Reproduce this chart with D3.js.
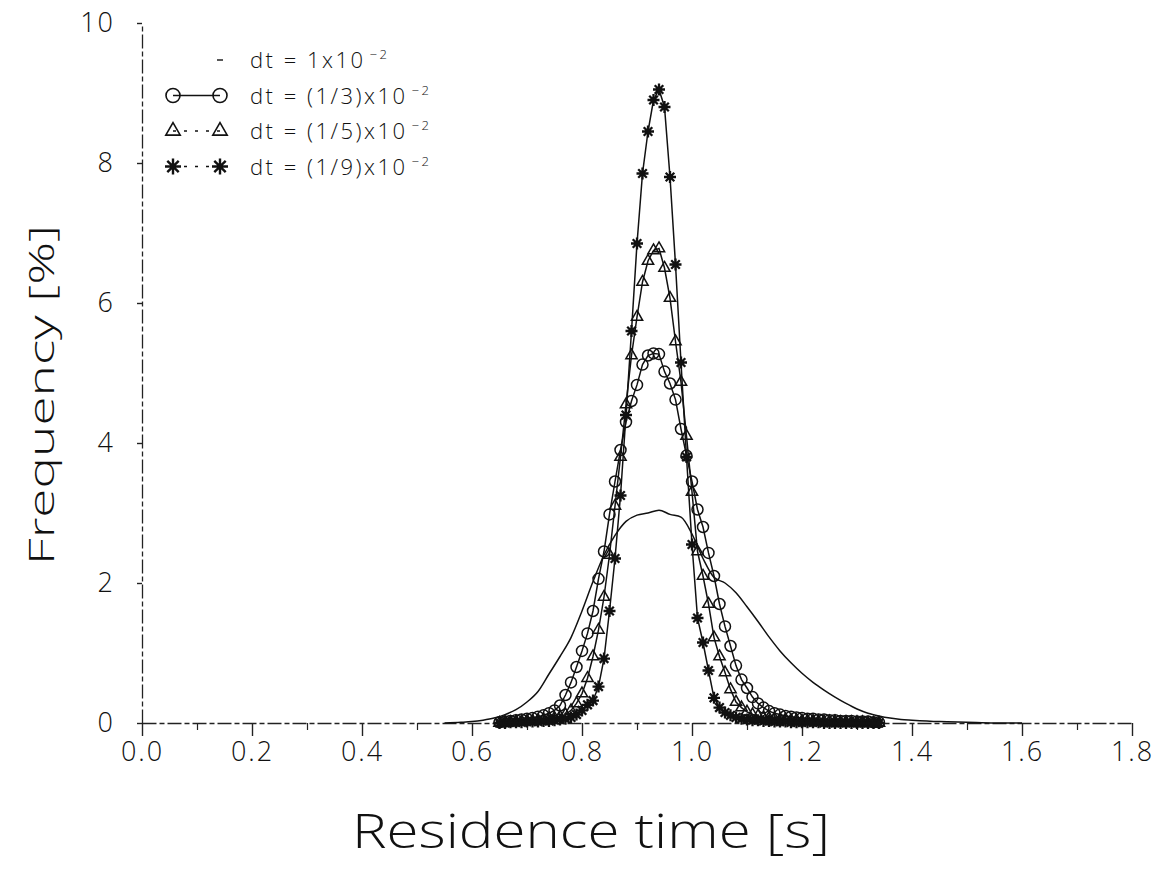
<!DOCTYPE html>
<html>
<head>
<meta charset="utf-8">
<script src="https://cdn.jsdelivr.net/npm/d3@7"></script>
<style>
  body { margin: 0; background: #fff; }
  svg { font-family: "Open Sans", "DejaVu Sans", sans-serif; font-weight: 300; }
</style>
</head>
<body>
<div class="chart"></div>
<script>
// residence time bins for the marker series [s]
const times = [
  0.65, 0.66, 0.67, 0.68, 0.69, 0.70, 0.71, 0.72, 0.73, 0.74,
  0.75, 0.76, 0.77, 0.78, 0.79, 0.80, 0.81, 0.82, 0.83, 0.84,
  0.85, 0.86, 0.87, 0.88, 0.89, 0.90, 0.91, 0.92, 0.93, 0.94,
  0.95, 0.96, 0.97, 0.98, 0.99, 1.00, 1.01, 1.02, 1.03, 1.04,
  1.05, 1.06, 1.07, 1.08, 1.09, 1.10, 1.11, 1.12, 1.13, 1.14,
  1.15, 1.16, 1.17, 1.18, 1.19, 1.20, 1.21, 1.22, 1.23, 1.24,
  1.25, 1.26, 1.27, 1.28, 1.29, 1.30, 1.31, 1.32, 1.33, 1.34
];

// dt = (1/3)x10^-2  (circles)
const freqThird = [
  0.01, 0.02, 0.03, 0.04, 0.05, 0.06, 0.07, 0.09, 0.11, 0.14,
  0.18, 0.25, 0.40, 0.58, 0.80, 1.03, 1.28, 1.60, 2.06, 2.45,
  2.98, 3.45, 3.90, 4.30, 4.60, 4.83, 5.12, 5.25, 5.28, 5.27,
  5.02, 4.85, 4.62, 4.20, 3.82, 3.45, 3.05, 2.80, 2.43, 2.10,
  1.70, 1.38, 1.10, 0.82, 0.62, 0.50, 0.37, 0.28, 0.22, 0.17,
  0.14, 0.12, 0.10, 0.09, 0.08, 0.07, 0.06, 0.06, 0.05, 0.05,
  0.04, 0.04, 0.03, 0.03, 0.03, 0.02, 0.02, 0.02, 0.01, 0.01
];

// dt = (1/5)x10^-2  (triangles)
const freqFifth = [
  0.00, 0.01, 0.01, 0.02, 0.02, 0.03, 0.03, 0.04, 0.05, 0.06,
  0.07, 0.09, 0.12, 0.18, 0.28, 0.42, 0.64, 0.95, 1.33, 1.80,
  2.40, 3.10, 3.80, 4.55, 5.25, 5.80, 6.30, 6.60, 6.75, 6.78,
  6.50, 6.07, 5.45, 4.87, 4.10, 3.30, 2.45, 2.10, 1.70, 1.22,
  0.95, 0.72, 0.48, 0.30, 0.22, 0.16, 0.12, 0.10, 0.08, 0.07,
  0.06, 0.05, 0.05, 0.04, 0.04, 0.03, 0.03, 0.03, 0.02, 0.02,
  0.02, 0.02, 0.01, 0.01, 0.01, 0.01, 0.01, 0.00, 0.00, 0.00
];

// dt = (1/9)x10^-2  (stars)
const freqNinth = [
  0.00, 0.00, 0.01, 0.01, 0.01, 0.02, 0.02, 0.02, 0.03, 0.03,
  0.04, 0.05, 0.06, 0.08, 0.12, 0.18, 0.26, 0.32, 0.52, 0.92,
  1.60, 2.35, 3.25, 4.40, 5.60, 6.85, 7.85, 8.45, 8.90, 9.05,
  8.80, 7.80, 6.55, 5.15, 3.80, 2.55, 1.50, 1.15, 0.75, 0.36,
  0.22, 0.15, 0.11, 0.08, 0.06, 0.05, 0.04, 0.04, 0.03, 0.03,
  0.02, 0.02, 0.02, 0.01, 0.01, 0.01, 0.01, 0.01, 0.01, 0.00,
  0.00, 0.00, 0.00, 0.00, 0.00, 0.00, 0.00, 0.00, 0.00, 0.00
];

// dt = 1x10^-2  (plain line)
const lineTimes = [
  0.55, 0.58, 0.60, 0.62, 0.64, 0.66, 0.68, 0.70, 0.72, 0.74,
  0.76, 0.78, 0.80, 0.82, 0.84, 0.86, 0.88, 0.90, 0.92, 0.94,
  0.96, 0.98, 1.00, 1.02, 1.04, 1.06, 1.08, 1.10, 1.12, 1.14,
  1.16, 1.18, 1.20, 1.22, 1.24, 1.26, 1.28, 1.30, 1.32, 1.34,
  1.36, 1.38, 1.40, 1.45, 1.50, 1.55, 1.60
];
const freqOne = [
  0.00, 0.01, 0.02, 0.04, 0.07, 0.12, 0.19, 0.30, 0.45, 0.70,
  0.95, 1.22, 1.60, 2.02, 2.40, 2.68, 2.88, 2.97, 3.00, 3.04,
  2.98, 2.94, 2.70, 2.35, 2.08, 2.00, 1.86, 1.66, 1.45, 1.23,
  1.03, 0.86, 0.71, 0.58, 0.47, 0.37, 0.28, 0.20, 0.14, 0.10,
  0.07, 0.05, 0.04, 0.02, 0.01, 0.00, 0.00
];

const xMajor = [0.0, 0.2, 0.4, 0.6, 0.8, 1.0, 1.2, 1.4, 1.6, 1.8];
const xMinor = [0.1, 0.3, 0.5, 0.7, 0.9, 1.1, 1.3, 1.5, 1.7];
const yTicks = [0, 2, 4, 6, 8, 10];

const legendMain = ['dt = 1x10', 'dt = (1/3)x10', 'dt = (1/5)x10', 'dt = (1/9)x10'];
const legendExp = ['\u22122', '\u22122', '\u22122', '\u22122'];

//size and scales
const W = 1170, H = 869;
const x = d3.scaleLinear().domain([0, 1.8]).range([142, 1132]);
const y = d3.scaleLinear().domain([0, 10]).range([723, 23]);

const svg = d3.select('.chart').append('svg')
  .attr('width', W)
  .attr('height', H);

//axes
const axisStyle = g => {
  g.selectAll('.tick line').attr('stroke', '#222').attr('stroke-width', 1.4);
  g.select('.domain').attr('stroke', '#222').attr('stroke-width', 1.3)
    .attr('stroke-dasharray', '14,3,5,3');
};

svg.append('g')
  .attr('transform', `translate(0,${y(0)})`)
  .call(d3.axisBottom(x).tickValues(xMajor).tickSize(13).tickSizeOuter(0)
    .tickPadding(6).tickFormat(d3.format('.1f')))
  .call(axisStyle)
  .call(g => g.selectAll('.tick text')
    .attr('font-size', 27).attr('letter-spacing', 2).attr('fill', '#111')
    .attr('font-family', '"Open Sans", sans-serif').attr('font-weight', 300));

svg.append('g')
  .attr('transform', `translate(0,${y(0)})`)
  .call(d3.axisBottom(x).tickValues(xMinor).tickSize(7).tickFormat(''))
  .call(g => g.select('.domain').remove())
  .call(g => g.selectAll('.tick line').attr('stroke', '#222').attr('stroke-width', 1.2));

svg.append('g')
  .attr('transform', `translate(${x(0)},0)`)
  .call(d3.axisLeft(y).tickValues(yTicks).tickSize(5).tickSizeOuter(0)
    .tickPadding(22).tickFormat(d3.format('d')))
  .call(axisStyle)
  .call(g => g.selectAll('.tick text')
    .attr('font-size', 27).attr('letter-spacing', 2).attr('fill', '#111')
    .attr('font-family', '"Open Sans", sans-serif').attr('font-weight', 300));

//axis titles
svg.append('text')
  .attr('x', 352).attr('y', 848)
  .attr('font-size', 48)
  .attr('textLength', 478).attr('lengthAdjust', 'spacingAndGlyphs')
  .attr('fill', '#111')
  .text('Residence time [s]');

svg.append('text')
  .attr('transform', 'translate(54,565) rotate(-90)')
  .attr('font-size', 34)
  .attr('textLength', 340).attr('lengthAdjust', 'spacingAndGlyphs')
  .attr('fill', '#111')
  .text('Frequency [%]');

//series
const line = d3.line().x(d => x(d[0])).y(d => y(d[1]));
const smooth = d3.line().x(d => x(d[0])).y(d => y(d[1])).curve(d3.curveMonotoneX);

svg.append('path')
  .datum(lineTimes.map((t, i) => [t, freqOne[i]]))
  .attr('d', smooth)
  .attr('fill', 'none').attr('stroke', '#111').attr('stroke-width', 1.5);

const starPath = 'M-6,0L6,0M0,-6L0,6M-4.3,-4.3L4.3,4.3M-4.3,4.3L4.3,-4.3';
const triPath = d3.symbol(d3.symbolTriangle, 55)();

const markerSeries = [
  { vals: freqThird, kind: 'circle' },
  { vals: freqFifth, kind: 'triangle' },
  { vals: freqNinth, kind: 'star' }
];

function drawMarker(g, kind) {
  if (kind === 'circle') {
    g.append('circle').attr('r', 5.5)
      .attr('fill', 'none').attr('stroke', '#111').attr('stroke-width', 1.5);
  } else if (kind === 'triangle') {
    g.append('path').attr('d', triPath)
      .attr('fill', 'none').attr('stroke', '#111').attr('stroke-width', 1.5);
  } else {
    g.append('path').attr('d', starPath)
      .attr('stroke', '#111').attr('stroke-width', 2.3);
    g.append('circle').attr('r', 2.6).attr('fill', '#111');
  }
}

markerSeries.forEach(s => {
  const pts = times.map((t, i) => [t, s.vals[i]]);
  svg.append('path')
    .datum(pts)
    .attr('d', line)
    .attr('fill', 'none').attr('stroke', '#111').attr('stroke-width', 1.5);
  svg.append('g').selectAll('g')
    .data(pts)
    .enter()
    .append('g')
    .attr('transform', d => `translate(${x(d[0])},${y(d[1])})`)
    .each(function () { drawMarker(d3.select(this), s.kind); });
});

//legend
const legend = svg.append('g').attr('class', 'legend');
const rowY = i => 68 + 35.5 * i;

legend.append('line')
  .attr('x1', 217).attr('x2', 223)
  .attr('y1', rowY(0) - 8).attr('y2', rowY(0) - 8)
  .attr('stroke', '#111').attr('stroke-width', 1.4);

['circle', 'triangle', 'star'].forEach((kind, k) => {
  const cy = rowY(k + 1) - 8;
  legend.append('line')
    .attr('x1', 173).attr('x2', 220).attr('y1', cy).attr('y2', cy)
    .attr('stroke', '#111').attr('stroke-width', 1.4)
    .attr('stroke-dasharray', kind === 'circle' ? null : '3,8');
  [173, 220].forEach(cx => {
    const g = legend.append('g').attr('transform', `translate(${cx},${cy})`);
    if (kind === 'circle') {
      g.append('circle').attr('r', 7).attr('fill', 'none')
        .attr('stroke', '#111').attr('stroke-width', 1.6);
    } else if (kind === 'triangle') {
      g.append('path').attr('d', d3.symbol(d3.symbolTriangle, 90)())
        .attr('fill', 'none').attr('stroke', '#111').attr('stroke-width', 1.6);
    } else {
      g.append('path').attr('d', 'M-8,0L8,0M0,-8L0,8M-5.7,-5.7L5.7,5.7M-5.7,5.7L5.7,-5.7')
        .attr('stroke', '#111').attr('stroke-width', 2.4);
      g.append('circle').attr('r', 3).attr('fill', '#111');
    }
  });
});

legendMain.forEach((txt, i) => {
  const t = legend.append('text')
    .attr('x', 250).attr('y', rowY(i))
    .attr('font-size', 22).attr('letter-spacing', 2.5)
    .attr('fill', '#111')
    .attr('xml:space', 'preserve')
    .text(txt);
  t.append('tspan')
    .attr('dx', 4).attr('dy', -9)
    .attr('font-size', 13)
    .text(legendExp[i]);
});
</script>
</body>
</html>
